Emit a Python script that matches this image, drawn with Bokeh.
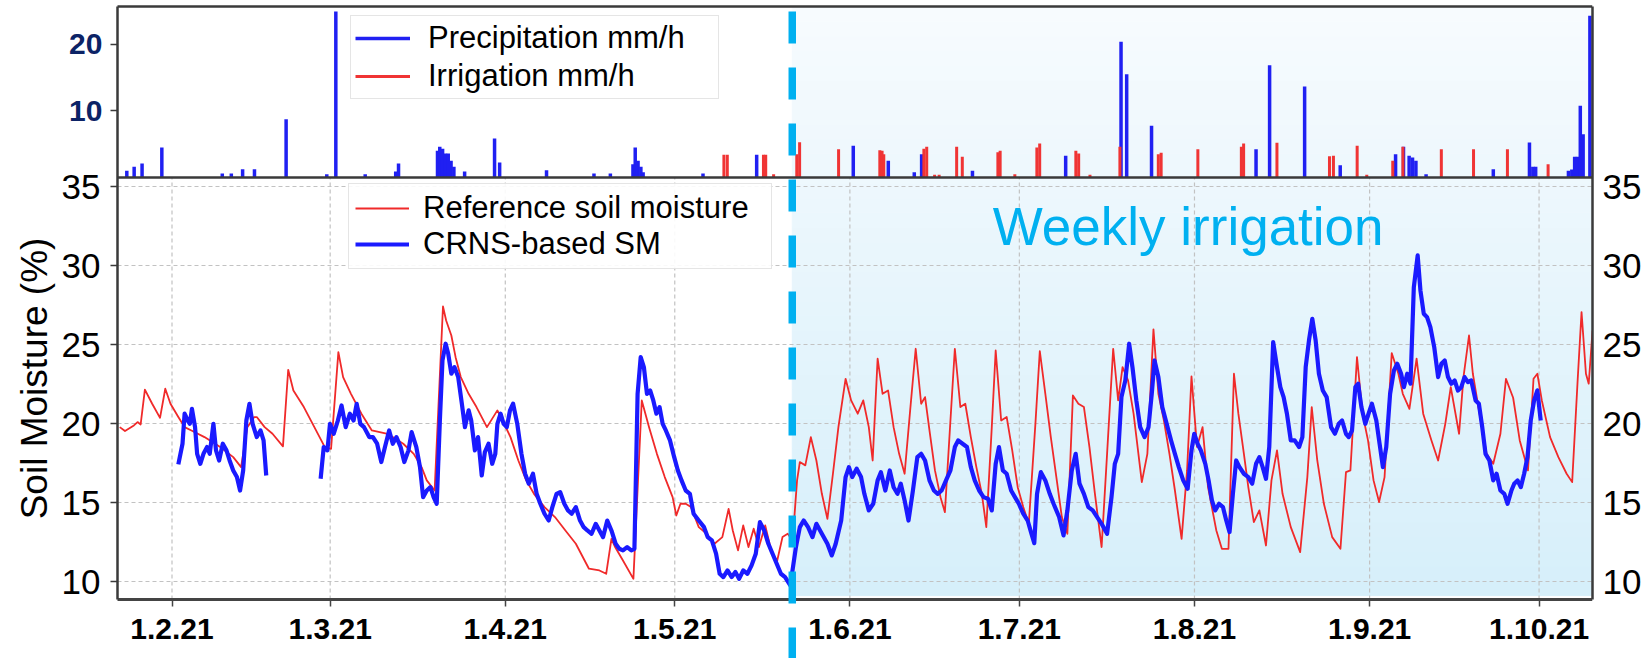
import numpy as np
import pandas as pd
from bokeh.plotting import figure
from bokeh.models import (Range1d, FixedTicker, LinearAxis, Span, Label, Legend,
                          LegendItem)
from bokeh.embed import file_html
from bokeh.resources import INLINE

# ---------------- data (days counted from 1 Feb 2021) ----------------
prec_days = [-8.0, -6.7, -5.3, -1.8, 8.9, 10.5, 12.5, 14.6, 20.2, 27.4,
             29.0, 34.2, 39.6, 40.1, 47.0, 47.4, 47.9, 48.4, 48.9, 49.4,
             49.9, 51.8, 57.1, 58.0, 66.3, 74.7, 77.6, 81.6, 82.0, 82.5,
             83.0, 83.4, 94.0, 103.5, 120.6, 126.8, 131.4, 132.7, 141.7, 158.2,
             168.0, 169.0, 173.4, 191.9, 194.3, 200.5, 206.8, 216.6, 218.0, 219.0,
             219.6, 220.2, 222.0, 233.9, 240.3, 240.9, 241.4, 247.2, 247.8, 248.3,
             248.8, 249.3, 249.8, 251.0]
prec_mm = [1.0, 1.6, 2.1, 4.5, 0.6, 0.6, 1.25, 1.25, 8.75, 0.5,
           24.9, 0.5, 0.9, 2.1, 4.0, 4.6, 4.3, 3.6, 3.6, 2.5,
           1.6, 0.9, 5.85, 2.25, 1.1, 0.6, 0.6, 2.0, 4.5, 2.5,
           1.6, 0.8, 0.6, 3.4, 4.75, 2.5, 0.8, 3.5, 1.0, 3.25,
           20.35, 15.5, 7.75, 4.25, 16.85, 13.65, 1.85, 3.5, 4.6, 3.25,
           3.0, 2.5, 0.5, 1.25, 5.25, 1.6, 1.6, 1.0, 1.2, 3.1,
           3.1, 10.75, 6.5, 24.25]

irr_days = [97.7, 98.3, 104.7, 105.1, 106.5, 110.6, 111.1, 118.0, 125.3, 125.7,
            126.0, 133.1, 133.6, 135.0, 135.8, 138.9, 139.9, 146.2, 146.6, 149.2,
            153.1, 153.6, 160.0, 160.5, 162.5, 167.8, 174.6, 175.1, 181.6, 189.3,
            189.7, 195.6, 204.9, 205.6, 209.8, 211.5, 216.1, 217.9, 224.7, 230.4,
            236.4, 243.6]
irr_mm = [3.4, 3.4, 3.4, 3.4, 0.5, 3.5, 5.3, 4.25, 4.1, 4.0,
          3.5, 4.3, 4.6, 0.4, 0.4, 4.6, 3.1, 3.8, 4.0, 0.5,
          4.5, 5.1, 4.0, 3.6, 0.4, 4.6, 3.5, 3.7, 4.25, 4.6,
          5.1, 5.2, 3.2, 3.25, 4.75, 0.4, 2.5, 4.6, 4.25, 4.25,
          4.25, 2.0]

ref_days = [-9.25, -8.32, -6.75, -6.10, -5.55, -4.80, -3.51, -2.12, -1.19, -0.27,
            1.12, 2.23, 3.44, 5.75, 8.53, 10.84, 12.23, 13.34, 14.55, 15.01,
            16.40, 17.79, 19.64, 20.57, 21.49, 23.34, 25.20, 27.05, 28.16, 29.45,
            30.29, 31.68, 33.53, 35.38, 38.16, 40.94, 42.79, 44.18, 45.10, 46.49,
            47.97, 48.53, 49.45, 50.20, 51.12, 52.51, 53.90, 55.75, 57.60, 58.53,
            59.92, 61.31, 62.70, 64.08, 65.94, 67.79, 69.64, 71.49, 73.81, 75.66,
            76.86, 77.79, 78.44, 79.83, 81.68, 83.16, 84.45, 85.84, 87.23, 88.62,
            89.27, 90.01, 90.94, 91.86, 93.25, 94.64, 96.03, 97.42, 98.53, 99.27,
            100.20, 101.12, 102.05, 102.97, 103.90, 105.01, 106.21, 107.14, 108.07, 108.99,
            109.87, 110.65, 111.14, 112.11, 113.09, 114.07, 115.04, 116.02, 117.00, 117.97,
            119.24, 120.22, 121.39, 122.37, 123.35, 124.03, 124.91, 125.79, 126.76, 127.74,
            128.72, 129.69, 130.67, 131.65, 132.62, 133.31, 134.09, 135.06, 136.04, 136.82,
            137.80, 138.58, 139.56, 140.43, 141.41, 142.39, 143.36, 144.15, 145.12, 145.81,
            146.78, 147.76, 148.74, 149.71, 150.69, 151.67, 152.84, 153.62, 154.60, 155.57,
            156.55, 157.52, 158.50, 159.48, 160.45, 161.43, 162.41, 163.38, 164.56, 165.53,
            166.61, 167.49, 168.27, 169.24, 170.22, 171.68, 172.66, 173.74, 174.61, 175.59,
            176.57, 177.54, 178.72, 179.69, 180.47, 181.45, 182.43, 183.40, 184.87, 185.85,
            187.02, 187.99, 188.77, 189.75, 190.53, 191.51, 192.49, 193.66, 194.63, 195.61,
            196.59, 198.05, 199.71, 200.98, 201.76, 202.74, 203.91, 205.38, 206.84, 207.82,
            208.60, 209.77, 210.75, 211.72, 212.70, 213.68, 214.65, 215.92, 217.10, 217.88,
            219.05, 220.32, 221.49, 222.95, 224.13, 225.40, 226.37, 227.84, 228.62, 229.60,
            230.28, 231.26, 232.72, 233.89, 235.16, 236.14, 237.41, 238.58, 240.04, 241.02,
            241.70, 242.49, 243.95, 245.42, 246.88, 247.86, 248.83, 249.52, 250.30, 250.79,
            251.47]
ref_sm = [19.77, 19.52, 19.88, 20.09, 19.94, 22.14, 21.25, 20.36, 22.20, 21.25,
          20.41, 19.77, 19.56, 19.14, 18.51, 17.87, 17.24, 19.77, 20.41, 20.41,
          19.77, 19.35, 18.55, 23.40, 22.09, 21.04, 19.77, 18.51, 18.40, 24.52,
          22.94, 21.88, 20.62, 19.56, 19.35, 18.72, 18.08, 17.24, 16.40, 15.76,
          27.41, 26.52, 25.57, 24.20, 22.94, 21.88, 21.04, 19.77, 20.83, 20.19,
          19.14, 17.66, 16.40, 15.55, 14.71, 14.08, 13.23, 12.39, 10.81, 10.70,
          10.49, 12.70, 12.18, 11.33, 10.17, 21.46, 19.77, 18.08, 16.61, 15.34,
          14.18, 14.92, 14.92, 14.71, 13.44, 13.02, 12.39, 12.81, 14.60, 13.23,
          11.97, 13.55, 12.18, 13.34, 12.18, 13.55, 11.76, 11.33, 12.81, 13.02,
          12.60, 16.40, 17.56, 17.35, 19.14, 17.66, 15.55, 13.97, 16.82, 19.77,
          22.83, 21.46, 20.62, 21.46, 19.77, 17.66, 24.10, 21.88, 22.09, 19.77,
          18.08, 16.82, 20.83, 24.73, 21.25, 21.67, 19.56, 17.03, 15.34, 14.39,
          20.19, 24.73, 21.04, 21.25, 19.14, 17.24, 15.55, 13.44, 19.77, 24.62,
          20.19, 20.41, 18.30, 15.97, 14.71, 13.65, 19.98, 24.58, 21.88, 19.14,
          16.61, 14.08, 13.02, 21.78, 21.25, 21.04, 18.51, 15.55, 12.18, 18.08,
          24.73, 21.46, 23.57, 22.73, 20.62, 16.29, 18.08, 25.96, 21.88, 20.19,
          18.08, 15.76, 12.70, 17.03, 22.98, 18.51, 19.77, 15.97, 13.23, 12.07,
          12.07, 23.15, 20.62, 18.08, 15.97, 13.76, 14.50, 12.28, 16.40, 18.30,
          15.55, 13.44, 11.86, 16.61, 21.04, 17.66, 14.92, 12.81, 12.07, 16.92,
          17.03, 24.20, 20.62, 18.93, 16.40, 15.03, 16.61, 24.46, 23.15, 21.88,
          20.93, 24.10, 20.62, 18.93, 17.66, 19.98, 22.30, 19.35, 22.94, 25.57,
          23.15, 21.04, 18.08, 17.45, 19.35, 22.83, 21.63, 18.93, 17.03, 22.83,
          23.15, 21.46, 19.14, 17.87, 16.82, 16.29, 22.73, 27.05, 23.15, 22.52,
          25.89]

NAN = float("nan")
crns_days = [1.12, 1.86, 2.23, 2.79, 3.16, 3.53, 4.08, 4.45, 5.01, 5.57,
             6.21, 6.68, 7.33, 7.79, 8.34, 8.99, 9.64, 10.20, 10.84, 11.49,
             12.05, 12.60, 13.16, 13.71, 14.27, 15.01, 15.66, 16.21, 16.68,
             21.5,
             26.31, 26.86, 27.51, 27.97, 28.62, 29.36, 30.01, 30.75, 31.49, 32.14,
             32.70, 33.34, 33.99, 34.92, 35.57, 36.31, 37.05, 37.70, 38.44, 39.08,
             39.73, 40.47, 41.12, 41.86, 42.42, 43.25, 43.90, 44.45, 45.10, 45.75,
             46.31, 46.86, 47.42, 47.88, 48.44, 48.90, 49.45, 50.01, 50.66, 51.31,
             51.86, 52.51, 52.97, 53.62, 54.18, 54.83, 55.38, 56.03, 56.68, 57.23,
             57.60, 58.16, 58.71, 59.27, 59.83, 60.38, 61.12, 61.86, 62.51, 63.16,
             63.90, 64.55, 65.20, 65.94, 66.68, 67.33, 68.07, 68.71, 69.45, 70.10,
             70.75, 71.49, 72.23, 72.88, 73.53, 74.27, 75.01, 75.66, 76.31, 77.05,
             77.79, 78.53, 79.18, 79.83, 80.57, 81.31, 81.86, 82.42, 82.97, 83.53,
             84.08, 84.64, 85.20, 85.75, 86.31, 86.86, 87.42, 88.16, 88.90, 89.55,
             90.20, 90.94, 91.68, 92.33, 93.25, 94.18, 94.83, 95.57, 96.31, 96.95,
             97.60, 98.34, 99.08, 99.73, 100.38, 101.12, 101.86, 102.60, 103.34, 104.08,
             104.83, 105.57, 106.31, 107.05, 107.79, 108.53, 109.45,
             110.45, 111.14, 111.82, 112.60, 113.38, 114.07, 115.04, 116.02, 116.80, 117.49,
             118.46, 119.24, 119.83, 120.42, 121.20, 121.98, 122.56, 123.35, 124.13, 124.91,
             125.49, 126.27, 127.06, 127.74, 128.42, 129.01, 129.69, 130.38, 131.16, 131.94,
             132.62, 133.31, 134.09, 134.87, 135.55, 136.24, 137.02, 137.80, 138.58, 139.17,
             139.95, 140.73, 141.41, 142.10, 142.88, 143.66, 144.44, 145.12, 145.81, 146.39,
             147.08, 147.76, 148.54, 149.22, 149.91, 150.69, 151.47, 152.15, 152.64, 153.13,
             153.81, 154.60, 155.38, 156.06, 157.04, 157.82, 158.50, 159.28, 159.97, 160.65,
             161.43, 162.21, 162.99, 163.77, 164.56, 165.53, 166.31, 166.90, 167.49, 168.07,
             168.76, 169.44, 170.02, 170.71, 171.39, 172.17, 172.86, 173.44, 173.93, 174.61,
             175.30, 176.08, 176.86, 177.54, 178.23, 179.01, 179.79, 180.47, 180.96, 181.55,
             182.13, 182.92, 183.50, 184.09, 184.67, 185.36, 186.04, 186.63, 187.21, 187.80,
             188.38, 188.97, 189.75, 190.53, 191.22, 191.90, 192.49, 193.07, 193.66, 194.24,
             194.93, 195.61, 196.20, 196.78, 197.37, 198.05, 198.74, 199.52, 200.10, 200.69,
             201.27, 201.86, 202.45, 203.03, 203.72, 204.40, 205.18, 205.86, 206.55, 207.13,
             207.82, 208.31, 208.89, 209.48, 209.97, 210.55, 211.24, 211.82, 212.41, 213.19,
             213.77, 214.36, 214.95, 215.63, 216.31, 216.90, 217.58, 218.07, 218.66, 219.24,
             219.83, 220.51, 221.00, 221.59, 222.17, 222.76, 223.44, 224.13, 224.71, 225.30,
             225.88, 226.47, 227.06, 227.64, 228.23, 228.81, 229.40, 229.99, 230.77, 231.35,
             231.94, 232.52, 233.21, 233.89, 234.48, 235.16, 235.85, 236.43, 237.11, 237.60,
             238.19, 238.77, 239.36, 239.95, 240.53, 241.12, 241.70, 242.29]
crns_sm = [17.41, 18.72, 20.62, 20.19, 19.98, 20.93, 19.77, 18.08, 17.45, 18.08,
           18.51, 18.08, 19.98, 18.30, 17.66, 18.72, 18.30, 17.66, 17.03, 16.61,
           15.76, 17.03, 20.19, 21.25, 19.98, 19.14, 19.56, 18.93, 16.71,
           NAN,
           16.50, 18.51, 18.30, 19.98, 19.35, 20.19, 21.14, 19.77, 20.62, 20.19,
           21.25, 19.98, 19.77, 19.14, 19.14, 18.72, 17.56, 18.51, 19.56, 18.72,
           19.14, 18.51, 17.56, 18.30, 19.46, 18.51, 17.24, 15.34, 15.76, 15.97,
           15.34, 14.92, 20.19, 23.99, 25.05, 24.41, 23.15, 23.57, 22.94, 21.25,
           19.77, 20.83, 20.19, 18.30, 19.14, 16.71, 18.19, 18.72, 17.45, 18.08,
           19.98, 20.62, 19.98, 19.77, 20.83, 21.25, 19.98, 18.08, 16.82, 16.19,
           16.82, 15.55, 14.92, 14.29, 13.86, 14.71, 15.55, 15.66, 14.92, 14.50,
           14.29, 14.71, 13.86, 13.44, 13.23, 13.02, 13.65, 13.23, 12.81, 13.86,
           13.23, 12.39, 12.07, 11.97, 12.18, 11.97, 12.07, 21.88, 24.20, 23.57,
           21.88, 22.09, 21.46, 20.62, 21.04, 19.98, 19.56, 18.93, 17.87, 17.03,
           16.40, 15.76, 15.55, 14.29, 13.86, 13.44, 12.81, 12.60, 11.76, 10.49,
           10.28, 10.70, 10.28, 10.60, 10.17, 10.70, 10.49, 11.02, 11.76, 13.76,
           13.23, 12.39, 11.76, 11.12, 10.49, 10.28, 9.75,
           12.18, 13.44, 13.86, 13.44, 12.81, 13.65, 13.02, 12.39, 11.65, 12.39,
           13.86, 16.61, 17.24, 16.61, 17.14, 16.61, 15.55, 14.50, 14.92, 16.40,
           16.92, 15.76, 17.03, 15.97, 15.55, 16.19, 15.13, 13.86, 15.76, 17.87,
           18.08, 17.66, 16.40, 15.76, 15.55, 15.76, 16.40, 17.03, 18.51, 18.93,
           18.72, 18.51, 17.24, 16.40, 15.76, 15.34, 15.24, 14.50, 17.45, 18.51,
           17.03, 16.82, 15.76, 15.34, 14.92, 14.29, 13.86, 13.02, 12.43, 15.55,
           16.92, 16.40, 15.55, 14.92, 14.08, 12.92, 14.50, 17.03, 18.08, 16.19,
           15.55, 14.71, 14.50, 14.08, 13.65, 13.02, 15.34, 17.45, 18.08, 21.67,
           22.73, 25.05, 23.57, 21.46, 19.77, 19.14, 19.77, 21.88, 23.99, 22.94,
           21.04, 19.98, 18.93, 18.08, 17.24, 16.40, 15.87, 18.30, 19.35, 18.72,
           18.30, 17.45, 16.40, 15.13, 14.50, 14.92, 14.71, 13.86, 13.13, 15.55,
           17.66, 17.24, 16.82, 16.61, 16.19, 17.45, 17.87, 17.24, 16.50, 18.51,
           25.15, 23.57, 22.30, 21.67, 20.62, 18.93, 18.93, 18.51, 19.14, 23.57,
           25.26, 26.63, 25.26, 23.15, 22.09, 21.67, 19.77, 19.35, 19.98, 20.19,
           19.35, 19.14, 19.56, 22.30, 22.52, 21.04, 19.98, 20.62, 21.25, 20.19,
           18.72, 17.24, 18.51, 21.88, 23.36, 23.78, 23.15, 22.30, 23.15, 22.52,
           28.63, 30.64, 28.42, 26.95, 26.73, 26.10, 24.84, 22.94, 23.78, 23.99,
           22.94, 22.52, 22.73, 22.09, 22.30, 22.94, 22.62, 22.73, 21.46, 21.25,
           19.77, 18.08, 17.66, 16.40, 16.82, 15.76, 15.55, 14.92, 15.76, 16.19,
           16.40, 15.97, 16.82, 17.87, 20.19, 21.46, 22.10, 20.19]

tick_dates = ["2021-02-01", "2021-03-01", "2021-04-01", "2021-05-01", "2021-06-01",
              "2021-07-01", "2021-08-01", "2021-09-01", "2021-10-01"]
tick_labels = ["1.2.21", "1.3.21", "1.4.21", "1.5.21", "1.6.21",
               "1.7.21", "1.8.21", "1.9.21", "1.10.21"]
sm_ticks = [10, 15, 20, 25, 30, 35]
rain_ticks = [10, 20]
weekly_start_day = 109.8

# ---------------- helpers ----------------
BASE_MS = pd.Timestamp("2021-02-01").value / 1e6
DAY_MS = 86400000.0


def ms(d):
    return BASE_MS + np.asarray(d, dtype=float) * DAY_MS


FONT = "Liberation Sans"
BLUE = "#1a1aff"
RED = "#f02a2a"
CYAN = "#00b0f0"
AXC = "#3a3a3a"

W, H = 1645, 658
RIGHT = 53
TOP = 4
# x: frame spans the whole left margin so that the axes can sit inside it
FRAME_D0, AX_D0, AX_D1 = -30.36, -9.65, 251.46
xr = Range1d(start=float(ms(FRAME_D0)), end=float(ms(AX_D1)))
# soil moisture scale (10 % at y=581 px, 15.8 px per %)
SM_LO, SM_HI = 5.127, 46.52
# rain scale (0 at y=177 px, 6.667 px per mm/h)
RAIN_LO, RAIN_HI = -72.15, 25.95
RAIN_TOP = 25.65
XAXIS_Y = 8.86
PANEL_TOP_SM = 46.39
SHADE_BOTTOM = 9.11

x_left = float(ms(AX_D0))
x_right = float(ms(AX_D1))
x_sep = float(ms(weekly_start_day))
tick_ms = [pd.Timestamp(t).value / 1e6 for t in tick_dates]


def shade(py):
    t = min(max((py - 6) / (595 - 6), 0.0), 1.0)
    c0 = (247, 251, 254)
    c1 = (214, 239, 250)
    return "#%02x%02x%02x" % tuple(int(round(a + (b - a) * t)) for a, b in zip(c0, c1))


p = figure(width=W, height=H, x_axis_type="datetime", x_range=xr,
           y_range=Range1d(SM_LO, SM_HI), output_backend="svg", toolbar_location=None,
           min_border_left=0, min_border_right=RIGHT, min_border_top=TOP,
           min_border_bottom=0, y_axis_location=None)
p.extra_y_ranges = {"rain": Range1d(RAIN_LO, RAIN_HI)}
p.grid.visible = False
p.outline_line_color = None
p.background_fill_color = "white"
p.border_fill_color = "white"

# background gradient of the weekly-irrigation period
n = 40
e = np.linspace(SHADE_BOTTOM, PANEL_TOP_SM, n + 1)
px_per = (H - TOP) / (SM_HI - SM_LO)
cols = [shade(TOP + (SM_HI - (e[i] + e[i + 1]) / 2) * px_per) for i in range(n)]
p.quad(left=x_sep, right=x_right, bottom=e[:-1], top=e[1:],
       fill_color=cols, line_color=cols, line_width=1)

# grid of the soil-moisture panel
p.segment(x0=tick_ms, y0=XAXIS_Y, x1=tick_ms, y1=35.57, line_color="#c2c2c2",
          line_width=1.2, line_dash="4 3")
p.segment(x0=x_left, y0=sm_ticks, x1=x_right, y1=sm_ticks, line_color="#c2c2c2",
          line_width=1.2, line_dash="4 3")

# rain / irrigation panel
r_p = p.segment(x0=ms(prec_days), y0=0, x1=ms(prec_days), y1=prec_mm,
                line_color="#2020f2", line_width=3.5, y_range_name="rain")
r_i = p.segment(x0=ms(irr_days), y0=0, x1=ms(irr_days), y1=irr_mm,
                line_color="#f03434", line_width=3, y_range_name="rain")
p.segment(x0=x_left, y0=[0, RAIN_TOP], x1=x_right, y1=[0, RAIN_TOP],
          line_color=AXC, line_width=2.5, y_range_name="rain")

# soil moisture
r_ref = p.line(ms(ref_days), ref_sm, line_color=RED, line_width=1.8, line_join="round")
r_crns = p.line(ms(crns_days), np.asarray(crns_sm, dtype=float), line_color=BLUE,
                line_width=4.2, line_join="round")

# x axis
xa = p.xaxis[0]
xa.fixed_location = XAXIS_Y
xa.bounds = (x_left, x_right)
xa.ticker = FixedTicker(ticks=tick_ms)
xa.major_label_overrides = {float(t): lab for t, lab in zip(tick_ms, tick_labels)}
xa.major_label_text_font = FONT
xa.major_label_text_font_size = "30px"
xa.major_label_text_font_style = "bold"
xa.major_label_text_color = "black"
xa.major_tick_out = 7
xa.major_tick_in = 0
xa.minor_tick_out = 0
xa.minor_tick_in = 0
xa.major_label_standoff = 12
xa.axis_line_color = "#444444"
xa.axis_line_width = 3
xa.major_tick_line_color = "#444444"
xa.major_tick_line_width = 1.5

# left soil-moisture axis (inside the frame, at the panel edge)
yl = LinearAxis(fixed_location=x_left, ticker=FixedTicker(ticks=sm_ticks),
                bounds=(XAXIS_Y, PANEL_TOP_SM), major_label_text_font=FONT,
                major_label_text_font_size="35px", major_label_text_color="black",
                major_tick_out=7, major_tick_in=0, minor_tick_out=0, minor_tick_in=0,
                major_label_standoff=10, axis_line_color=AXC, axis_line_width=2.5,
                major_tick_line_color=AXC, major_tick_line_width=1.5)
p.add_layout(yl, "left")

# left rain axis
ya = LinearAxis(y_range_name="rain", fixed_location=x_left,
                ticker=FixedTicker(ticks=rain_ticks), bounds=(0, RAIN_TOP),
                major_label_text_font=FONT, major_label_text_font_size="30px",
                major_label_text_font_style="bold", major_label_text_color="#0c2366",
                major_tick_out=7, major_tick_in=0, minor_tick_out=0, minor_tick_in=0,
                major_label_standoff=8, axis_line_color=None,
                major_tick_line_color=AXC, major_tick_line_width=1.5)
p.add_layout(ya, "left")

# right soil-moisture axis
yr = LinearAxis(ticker=FixedTicker(ticks=sm_ticks), bounds=(XAXIS_Y, PANEL_TOP_SM),
                major_label_text_font=FONT, major_label_text_font_size="35px",
                major_label_text_color="black", major_tick_out=0, major_tick_in=0,
                minor_tick_out=0, minor_tick_in=0, major_label_standoff=10,
                axis_line_color=AXC, axis_line_width=2.5)
p.add_layout(yr, "right")

# start of weekly irrigation
p.add_layout(Span(location=x_sep, dimension="height", line_color=CYAN,
                  line_width=7.5, line_dash="32 24", line_dash_offset=49))

leg1 = Legend(items=[LegendItem(label="Precipitation mm/h", renderers=[r_p]),
                     LegendItem(label="Irrigation mm/h", renderers=[r_i])],
              location=(350, 559), label_text_font=FONT, label_text_font_size="31px",
              label_text_color="black",
              glyph_width=55, glyph_height=20, label_standoff=18, padding=4, spacing=2,
              label_width=286, border_line_color="#cccccc", border_line_width=1.5,
              background_fill_color="white", background_fill_alpha=0.85, margin=0)
p.add_layout(leg1)

leg2 = Legend(items=[LegendItem(label="Reference soil moisture", renderers=[r_ref]),
                     LegendItem(label="CRNS-based SM", renderers=[r_crns])],
              location=(348, 389), label_text_font=FONT, label_text_font_size="31px",
              label_text_color="black",
              glyph_width=54, glyph_height=20, label_standoff=14, padding=6, spacing=0,
              label_width=342, border_line_color="#cccccc", border_line_width=1.5,
              background_fill_color="white", background_fill_alpha=0.9, margin=0)
p.add_layout(leg2)

p.add_layout(Label(x=float(ms(145.3)), y=32.5, text="Weekly irrigation", text_font=FONT,
                   text_font_size="53px", text_color=CYAN, text_align="left",
                   text_baseline="alphabetic"))
p.add_layout(Label(x=float(ms(-24.3)), y=22.85, text="Soil Moisture (%)", text_font=FONT,
                   text_font_size="37px", text_color="black", angle=np.pi / 2,
                   text_align="center", text_baseline="middle"))

open("out.html", "w").write(file_html(p, INLINE))
